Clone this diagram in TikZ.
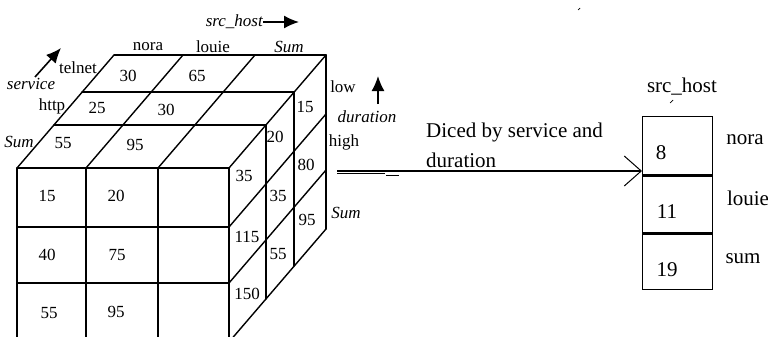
\documentclass[tikz,border=0pt]{standalone}
\usepackage{fontspec}
\setmainfont{Liberation Serif}
\usetikzlibrary{arrows.meta}
\begin{document}
\begin{tikzpicture}[x=1pt,y=-1pt,
  cube/.style={line width=1.4pt, line cap=round},
  ct/.style={font=\fontsize{17}{20}\selectfont, inner sep=0pt},
  it/.style={font=\fontsize{17}{20}\selectfont\itshape, inner sep=0pt},
  rt/.style={font=\fontsize{21}{24}\selectfont, inner sep=0pt},
  cell/.style={draw, line width=1.4pt, minimum width=70pt, inner sep=0pt},
  axarrow/.style={line width=1.6pt, -{Latex[length=15pt,width=13pt]}}]
\useasboundingbox (0,0) rectangle (768,337);
\begin{scope}
\clip (0,0) rectangle (768,337);
% front face grid
\foreach \x in {17,86,158,229} \draw[cube] (\x,168) -- (\x,342);
\foreach \y in {168,227,283,342} \draw[cube] (17,\y) -- (229,\y);
% layers: top horizontal and right vertical
\foreach \dx/\dy in {37/-43,65/-76,97/-113} {
  \draw[cube] ({17+\dx},{168+\dy}) -- ({229+\dx},{168+\dy});
  \draw[cube] ({229+\dx},{168+\dy}) -- ({229+\dx},{342+\dy});
}
% top diagonals
\foreach \x in {17,86,158,229} \draw[cube] (\x,168) -- ({\x+97},55);
% right diagonals
\foreach \y in {227,283,342} \draw[cube] (229,\y) -- (326,{\y-113});
\end{scope}
% front numbers
\node[ct] (f11) at (47,196) {15};
\node[ct] (f12) at (116,196) {20};
\node[ct] (f21) at (47,255) {40};
\node[ct] (f22) at (117,255) {75};
\node[ct] (f31) at (49,313) {55};
\node[ct] (f32) at (116,312) {95};
% top numbers
\node[ct] (t11) at (128,76) {30};
\node[ct] (t12) at (197,76) {65};
\node[ct] (t21) at (97,108) {25};
\node[ct] (t22) at (166,110) {30};
\node[ct] (t31) at (63,143) {55};
\node[ct] (t32) at (135,145) {95};
% right numbers
\node[ct] (r1) at (305,107) {15};
\node[ct] (r2) at (275,137) {20};
\node[ct] (r3) at (306,165) {80};
\node[ct] (r4) at (244,176) {35};
\node[ct] (r5) at (278,196) {35};
\node[ct] (r6) at (307,220) {95};
\node[ct] (r7) at (247,237) {115};
\node[ct] (r8) at (278,254) {55};
\node[ct] (r9) at (247,294) {150};
% axis labels
\node[ct] (nora) at (148,47) {nora};
\node[ct] (louie) at (213,47) {louie};
\node[it] (sumtop) at (289,47) {Sum};
\node[it,anchor=east] (srch) at (263,22) {src\_host};
\coordinate (srcend) at (299,22);
\draw[axarrow] (srch.east) -- (srcend);
\node[ct] (telnet) at (78,68) {telnet};
\node[it] (service) at (31,84) {service};
\coordinate (sva) at (35,77);
\coordinate (svb) at (61,48);
\draw[axarrow] (sva) -- (svb);
\node[ct] (http) at (52,106) {http};
\node[it] (sumleft) at (19,142) {Sum};
\node[ct] (low) at (343,87) {low};
\node[it] (dur) at (367,117) {duration};
\coordinate (dura) at (378,104);
\coordinate (durb) at (378,76);
\draw[axarrow] (dura) -- (durb);
\node[ct] (high) at (344,142) {high};
\node[it] (sumright) at (346,213) {Sum};
% result box
\node[cell, minimum height=58pt, anchor=north west] (b1) at (642,116) {};
\node[cell, minimum height=57pt, anchor=north] (b2) at (b1.south) {};
\node[cell, minimum height=55pt, anchor=north] (b3) at (b2.south) {};
\node[rt] (n8) at (661,153) {8};
\node[rt] (n11) at (667,212) {11};
\node[rt] (n19) at (667,270) {19};
\node[rt] (bnora) at (745,140) {nora};
\node[rt] (blouie) at (748,198) {louie};
\node[rt] (bsum) at (743,259) {sum};
\node[rt] (bsrc) at (682,87) {src\_host};
\draw[line width=0.7pt] (670,103) -- (673,100);
\draw[line width=0.7pt] (578,10) -- (580,8);
% dice arrow
\coordinate (da) at (337,171);
\coordinate (db) at (337,173.5);
\coordinate (dc) at (385,173.5);
\coordinate (dd) at (386,175);
\coordinate (de) at (399,175);
\draw[line width=1.2pt] (db) -- (dc);
\draw[line width=0.9pt] (dd) -- (de);
\draw[line width=1.2pt, -{Straight Barb[length=17pt,width=30pt,line width=1pt]}] (da) -- (da -| b1.west);
\node[rt, anchor=west] (dice1) at (426,132) {Diced by service and};
\node[rt, anchor=west] (dice2) at (426,160) {duration};
\end{tikzpicture}
\end{document}
